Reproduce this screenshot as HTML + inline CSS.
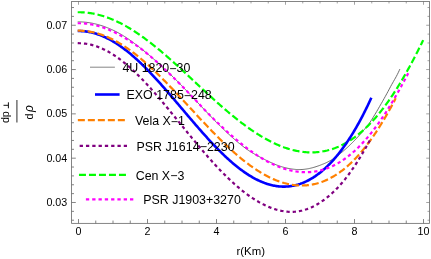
<!DOCTYPE html>
<html><head><meta charset="utf-8"><title>plot</title>
<style>
html,body{margin:0;padding:0;background:#fff;}
body{width:431px;height:259px;overflow:hidden;}
svg{display:block;will-change:transform;font-family:"Liberation Sans",sans-serif;}
text{fill:#000;}
</style></head><body>
<svg width="431" height="259" viewBox="0 0 431 259">
<rect width="431" height="259" fill="#fff"/>
<clipPath id="cp"><rect x="71.6" y="1.45" width="357.79999999999995" height="221.9"/></clipPath>
<g clip-path="url(#cp)">
<polyline points="77.70,21.85 78.63,21.85 79.57,21.86 80.50,21.89 81.44,21.92 82.37,21.97 83.31,22.03 84.24,22.11 85.18,22.19 86.11,22.29 87.04,22.40 87.98,22.52 88.91,22.66 89.85,22.80 90.78,22.96 91.72,23.13 92.65,23.31 93.59,23.51 94.52,23.71 95.45,23.93 96.39,24.16 97.32,24.40 98.26,24.65 99.19,24.91 100.13,25.19 101.06,25.47 102.00,25.77 102.93,26.08 103.86,26.40 104.80,26.74 105.73,27.08 106.67,27.44 107.60,27.80 108.54,28.18 109.47,28.57 110.41,28.98 111.34,29.39 112.27,29.81 113.21,30.25 114.14,30.70 115.08,31.16 116.01,31.63 116.95,32.11 117.88,32.60 118.82,33.11 119.75,33.62 120.68,34.15 121.62,34.70 122.55,35.25 123.49,35.83 124.42,36.41 125.36,37.01 126.29,37.63 127.23,38.25 128.16,38.89 129.09,39.54 130.03,40.19 130.96,40.86 131.90,41.54 132.83,42.23 133.77,42.92 134.70,43.63 135.64,44.34 136.57,45.06 137.50,45.78 138.44,46.51 139.37,47.25 140.31,47.98 141.24,48.73 142.18,49.48 143.11,50.23 144.05,50.98 144.98,51.73 145.91,52.49 146.85,53.26 147.78,54.02 148.72,54.80 149.65,55.58 150.59,56.37 151.52,57.16 152.46,57.96 153.39,58.76 154.32,59.57 155.26,60.39 156.19,61.21 157.13,62.04 158.06,62.87 159.00,63.71 159.93,64.55 160.87,65.40 161.80,66.25 162.73,67.11 163.67,67.98 164.60,68.85 165.54,69.73 166.47,70.61 167.41,71.49 168.34,72.39 169.28,73.28 170.21,74.19 171.14,75.09 172.08,76.01 173.01,76.92 173.95,77.85 174.88,78.78 175.82,79.71 176.75,80.65 177.69,81.59 178.62,82.54 179.55,83.49 180.49,84.44 181.42,85.40 182.36,86.37 183.29,87.34 184.23,88.32 185.16,89.29 186.10,90.28 187.03,91.26 187.96,92.25 188.90,93.23 189.83,94.22 190.77,95.22 191.70,96.21 192.64,97.20 193.57,98.20 194.51,99.19 195.44,100.19 196.37,101.18 197.31,102.18 198.24,103.17 199.18,104.17 200.11,105.17 201.05,106.16 201.98,107.15 202.92,108.14 203.85,109.13 204.78,110.12 205.72,111.11 206.65,112.09 207.59,113.08 208.52,114.06 209.46,115.03 210.39,116.01 211.33,116.98 212.26,117.95 213.19,118.91 214.13,119.87 215.06,120.83 216.00,121.78 216.93,122.72 217.87,123.67 218.80,124.60 219.74,125.53 220.67,126.46 221.60,127.37 222.54,128.29 223.47,129.19 224.41,130.09 225.34,130.98 226.28,131.87 227.21,132.75 228.15,133.62 229.08,134.49 230.01,135.34 230.95,136.19 231.88,137.03 232.82,137.86 233.75,138.69 234.69,139.50 235.62,140.31 236.56,141.11 237.49,141.90 238.42,142.68 239.36,143.45 240.29,144.21 241.23,144.96 242.16,145.70 243.10,146.43 244.03,147.15 244.97,147.86 245.90,148.56 246.83,149.23 247.77,149.88 248.70,150.52 249.64,151.13 250.57,151.73 251.51,152.31 252.44,152.88 253.38,153.43 254.31,153.97 255.24,154.50 256.18,155.02 257.11,155.53 258.05,156.04 258.98,156.53 259.92,157.03 260.85,157.51 261.79,158.00 262.72,158.48 263.65,158.96 264.59,159.44 265.52,159.93 266.46,160.40 267.39,160.87 268.33,161.33 269.26,161.78 270.20,162.22 271.13,162.65 272.06,163.07 273.00,163.48 273.93,163.88 274.87,164.27 275.80,164.64 276.74,165.01 277.67,165.36 278.61,165.70 279.54,166.03 280.47,166.34 281.41,166.64 282.34,166.93 283.28,167.20 284.21,167.46 285.15,167.70 286.08,167.92 287.02,168.14 287.95,168.33 288.88,168.51 289.82,168.67 290.75,168.82 291.69,168.96 292.62,169.09 293.56,169.21 294.49,169.32 295.43,169.41 296.36,169.49 297.29,169.55 298.23,169.58 299.16,169.60 300.10,169.59 301.03,169.56 301.97,169.51 302.90,169.44 303.84,169.35 304.77,169.24 305.70,169.12 306.64,168.98 307.57,168.82 308.51,168.65 309.44,168.46 310.38,168.25 311.31,168.03 312.25,167.79 313.18,167.54 314.11,167.27 315.05,166.99 315.98,166.69 316.92,166.38 317.85,166.06 318.79,165.72 319.72,165.38 320.66,165.02 321.59,164.65 322.52,164.28 323.46,163.91 324.39,163.52 325.33,163.11 326.26,162.69 327.20,162.25 328.13,161.78 329.07,161.30 330.00,160.78 330.93,160.23 331.87,159.66 332.80,159.05 333.74,158.42 334.67,157.78 335.61,157.12 336.54,156.44 337.48,155.74 338.41,155.03 339.34,154.30 340.28,153.55 341.21,152.79 342.15,152.02 343.08,151.23 344.02,150.42 344.95,149.60 345.89,148.77 346.82,147.92 347.75,147.07 348.69,146.19 349.62,145.31 350.56,144.41 351.49,143.50 352.43,142.58 353.36,141.65 354.30,140.70 355.23,139.73 356.16,138.76 357.10,137.77 358.03,136.76 358.97,135.74 359.90,134.70 360.84,133.64 361.77,132.57 362.71,131.48 363.64,130.37 364.57,129.24 365.51,128.10 366.44,126.93 367.38,125.74 368.31,124.53 369.25,123.30 370.18,121.99 371.12,120.60 372.05,119.15 372.98,117.64 373.92,116.10 374.85,114.55 375.79,113.00 376.72,111.43 377.66,109.84 378.59,108.21 379.53,106.58 380.46,104.96 381.39,103.36 382.33,101.74 383.26,100.09 384.20,98.43 385.13,96.74 386.07,95.04 387.00,93.32 387.94,91.58 388.87,89.84 389.80,88.08 390.74,86.32 391.67,84.61 392.61,82.95 393.54,81.33 394.48,79.70 395.41,78.06 396.35,76.36 397.28,74.59 398.21,72.71 399.15,70.70 399.85,69.10" fill="none" stroke="#5c5c5c" stroke-width="0.9"/>
<polyline points="77.70,12.24 78.63,12.23 79.57,12.24 80.50,12.26 81.44,12.29 82.37,12.33 83.31,12.38 84.24,12.44 85.18,12.52 86.11,12.60 87.04,12.70 87.98,12.81 88.91,12.93 89.85,13.06 90.78,13.20 91.72,13.35 92.65,13.51 93.59,13.69 94.52,13.87 95.45,14.07 96.39,14.28 97.32,14.49 98.26,14.72 99.19,14.96 100.13,15.21 101.06,15.47 102.00,15.74 102.93,16.03 103.86,16.32 104.80,16.62 105.73,16.93 106.67,17.26 107.60,17.59 108.54,17.94 109.47,18.29 110.41,18.66 111.34,19.03 112.27,19.42 113.21,19.81 114.14,20.22 115.08,20.63 116.01,21.06 116.95,21.49 117.88,21.94 118.82,22.39 119.75,22.85 120.68,23.32 121.62,23.81 122.55,24.30 123.49,24.80 124.42,25.31 125.36,25.83 126.29,26.35 127.23,26.89 128.16,27.43 129.09,27.99 130.03,28.55 130.96,29.12 131.90,29.70 132.83,30.28 133.77,30.88 134.70,31.48 135.64,32.09 136.57,32.71 137.50,33.34 138.44,33.97 139.37,34.62 140.31,35.27 141.24,35.92 142.18,36.59 143.11,37.26 144.05,37.94 144.98,38.62 145.91,39.31 146.85,40.01 147.78,40.72 148.72,41.43 149.65,42.15 150.59,42.87 151.52,43.60 152.46,44.34 153.39,45.08 154.32,45.83 155.26,46.58 156.19,47.34 157.13,48.10 158.06,48.87 159.00,49.65 159.93,50.43 160.87,51.21 161.80,52.00 162.73,52.79 163.67,53.59 164.60,54.39 165.54,55.20 166.47,56.01 167.41,56.83 168.34,57.65 169.28,58.47 170.21,59.30 171.14,60.12 172.08,60.96 173.01,61.79 173.95,62.63 174.88,63.48 175.82,64.32 176.75,65.17 177.69,66.02 178.62,66.87 179.55,67.72 180.49,68.58 181.42,69.44 182.36,70.30 183.29,71.16 184.23,72.03 185.16,72.89 186.10,73.76 187.03,74.63 187.96,75.50 188.90,76.37 189.83,77.24 190.77,78.11 191.70,78.98 192.64,79.85 193.57,80.73 194.51,81.60 195.44,82.47 196.37,83.34 197.31,84.22 198.24,85.09 199.18,85.96 200.11,86.83 201.05,87.70 201.98,88.57 202.92,89.44 203.85,90.31 204.78,91.17 205.72,92.03 206.65,92.90 207.59,93.76 208.52,94.62 209.46,95.47 210.39,96.33 211.33,97.18 212.26,98.03 213.19,98.88 214.13,99.72 215.06,100.57 216.00,101.41 216.93,102.24 217.87,103.08 218.80,103.91 219.74,104.73 220.67,105.56 221.60,106.38 222.54,107.19 223.47,108.01 224.41,108.81 225.34,109.62 226.28,110.42 227.21,111.22 228.15,112.01 229.08,112.79 230.01,113.58 230.95,114.35 231.88,115.13 232.82,115.89 233.75,116.66 234.69,117.41 235.62,118.17 236.56,118.91 237.49,119.65 238.42,120.39 239.36,121.12 240.29,121.84 241.23,122.56 242.16,123.27 243.10,123.98 244.03,124.68 244.97,125.37 245.90,126.06 246.83,126.74 247.77,127.41 248.70,128.08 249.64,128.74 250.57,129.39 251.51,130.04 252.44,130.67 253.38,131.30 254.31,131.93 255.24,132.54 256.18,133.15 257.11,133.75 258.05,134.35 258.98,134.93 259.92,135.51 260.85,136.08 261.79,136.64 262.72,137.19 263.65,137.73 264.59,138.27 265.52,138.80 266.46,139.32 267.39,139.83 268.33,140.33 269.26,140.82 270.20,141.30 271.13,141.78 272.06,142.24 273.00,142.70 273.93,143.14 274.87,143.58 275.80,144.01 276.74,144.43 277.67,144.84 278.61,145.23 279.54,145.62 280.47,146.00 281.41,146.37 282.34,146.73 283.28,147.08 284.21,147.42 285.15,147.74 286.08,148.06 287.02,148.37 287.95,148.66 288.88,148.95 289.82,149.23 290.75,149.49 291.69,149.74 292.62,149.99 293.56,150.22 294.49,150.44 295.43,150.65 296.36,150.84 297.29,151.03 298.23,151.20 299.16,151.37 300.10,151.52 301.03,151.66 301.97,151.79 302.90,151.90 303.84,152.01 304.77,152.10 305.70,152.18 306.64,152.25 307.57,152.30 308.51,152.35 309.44,152.38 310.38,152.39 311.31,152.40 312.25,152.39 313.18,152.37 314.11,152.34 315.05,152.29 315.98,152.23 316.92,152.16 317.85,152.08 318.79,151.98 319.72,151.87 320.66,151.74 321.59,151.60 322.52,151.45 323.46,151.28 324.39,151.10 325.33,150.91 326.26,150.70 327.20,150.48 328.13,150.24 329.07,149.99 330.00,149.73 330.93,149.45 331.87,149.15 332.80,148.85 333.74,148.52 334.67,148.19 335.61,147.83 336.54,147.47 337.48,147.08 338.41,146.69 339.34,146.27 340.28,145.84 341.21,145.40 342.15,144.94 343.08,144.47 344.02,143.98 344.95,143.47 345.89,142.95 346.82,142.41 347.75,141.86 348.69,141.29 349.62,140.70 350.56,140.10 351.49,139.48 352.43,138.85 353.36,138.20 354.30,137.53 355.23,136.84 356.16,136.14 357.10,135.42 358.03,134.69 358.97,133.94 359.90,133.17 360.84,132.38 361.77,131.58 362.71,130.76 363.64,129.92 364.57,129.06 365.51,128.19 366.44,127.30 367.38,126.39 368.31,125.47 369.25,124.52 370.18,123.56 371.12,122.58 372.05,121.58 372.98,120.57 373.92,119.54 374.85,118.49 375.79,117.42 376.72,116.33 377.66,115.22 378.59,114.10 379.53,112.96 380.46,111.80 381.39,110.62 382.33,109.42 383.26,108.21 384.20,106.97 385.13,105.72 386.07,104.45 387.00,103.16 387.94,101.86 388.87,100.53 389.80,99.19 390.74,97.83 391.67,96.45 392.61,95.05 393.54,93.64 394.48,92.20 395.41,90.75 396.35,89.28 397.28,87.80 398.21,86.29 399.15,84.77 400.08,83.23 401.02,81.68 401.95,80.10 402.89,78.51 403.82,76.90 404.76,75.28 405.69,73.64 406.62,71.98 407.56,70.31 408.49,68.62 409.43,66.92 410.36,65.20 411.30,63.46 412.23,61.71 413.17,59.95 414.10,58.17 415.03,56.38 415.97,54.57 416.90,52.75 417.84,50.92 418.77,49.07 419.71,47.21 420.64,45.34 421.58,43.46 422.51,41.57 423.21,40.14" fill="none" stroke="#00ff00" stroke-width="2.2" stroke-dasharray="7 3"/>
<polyline points="77.70,31.01 78.63,31.00 79.57,31.01 80.50,31.04 81.44,31.08 82.37,31.14 83.31,31.21 84.24,31.30 85.18,31.40 86.11,31.52 87.04,31.65 87.98,31.80 88.91,31.97 89.85,32.15 90.78,32.35 91.72,32.56 92.65,32.79 93.59,33.03 94.52,33.29 95.45,33.56 96.39,33.85 97.32,34.15 98.26,34.47 99.19,34.80 100.13,35.15 101.06,35.52 102.00,35.89 102.93,36.29 103.86,36.69 104.80,37.11 105.73,37.55 106.67,38.00 107.60,38.46 108.54,38.94 109.47,39.43 110.41,39.94 111.34,40.46 112.27,41.00 113.21,41.54 114.14,42.10 115.08,42.68 116.01,43.27 116.95,43.87 117.88,44.48 118.82,45.11 119.75,45.75 120.68,46.40 121.62,47.07 122.55,47.74 123.49,48.43 124.42,49.13 125.36,49.85 126.29,50.57 127.23,51.31 128.16,52.06 129.09,52.82 130.03,53.59 130.96,54.37 131.90,55.17 132.83,55.97 133.77,56.79 134.70,57.61 135.64,58.45 136.57,59.29 137.50,60.15 138.44,61.01 139.37,61.89 140.31,62.77 141.24,63.67 142.18,64.57 143.11,65.48 144.05,66.40 144.98,67.33 145.91,68.27 146.85,69.21 147.78,70.17 148.72,71.13 149.65,72.09 150.59,73.07 151.52,74.05 152.46,75.04 153.39,76.04 154.32,77.04 155.26,78.05 156.19,79.07 157.13,80.09 158.06,81.12 159.00,82.15 159.93,83.19 160.87,84.24 161.80,85.28 162.73,86.34 163.67,87.40 164.60,88.46 165.54,89.53 166.47,90.60 167.41,91.67 168.34,92.75 169.28,93.83 170.21,94.91 171.14,96.00 172.08,97.09 173.01,98.18 173.95,99.27 174.88,100.37 175.82,101.47 176.75,102.57 177.69,103.67 178.62,104.77 179.55,105.87 180.49,106.97 181.42,108.08 182.36,109.18 183.29,110.28 184.23,111.39 185.16,112.49 186.10,113.59 187.03,114.70 187.96,115.80 188.90,116.89 189.83,117.99 190.77,119.09 191.70,120.18 192.64,121.27 193.57,122.36 194.51,123.45 195.44,124.53 196.37,125.61 197.31,126.69 198.24,127.76 199.18,128.83 200.11,129.90 201.05,130.96 201.98,132.02 202.92,133.07 203.85,134.12 204.78,135.17 205.72,136.20 206.65,137.24 207.59,138.26 208.52,139.29 209.46,140.30 210.39,141.31 211.33,142.31 212.26,143.31 213.19,144.30 214.13,145.28 215.06,146.26 216.00,147.23 216.93,148.19 217.87,149.14 218.80,150.08 219.74,151.02 220.67,151.95 221.60,152.87 222.54,153.78 223.47,154.68 224.41,155.57 225.34,156.46 226.28,157.33 227.21,158.20 228.15,159.05 229.08,159.90 230.01,160.73 230.95,161.55 231.88,162.37 232.82,163.17 233.75,163.96 234.69,164.74 235.62,165.51 236.56,166.27 237.49,167.02 238.42,167.76 239.36,168.48 240.29,169.19 241.23,169.89 242.16,170.58 243.10,171.25 244.03,171.92 244.97,172.57 245.90,173.20 246.83,173.83 247.77,174.44 248.70,175.03 249.64,175.62 250.57,176.19 251.51,176.74 252.44,177.28 253.38,177.81 254.31,178.33 255.24,178.83 256.18,179.31 257.11,179.78 258.05,180.24 258.98,180.68 259.92,181.11 260.85,181.52 261.79,181.92 262.72,182.30 263.65,182.66 264.59,183.02 265.52,183.35 266.46,183.67 267.39,183.97 268.33,184.26 269.26,184.53 270.20,184.79 271.13,185.03 272.06,185.25 273.00,185.46 273.93,185.65 274.87,185.82 275.80,185.97 276.74,186.11 277.67,186.24 278.61,186.34 279.54,186.43 280.47,186.50 281.41,186.56 282.34,186.59 283.28,186.61 284.21,186.62 285.15,186.60 286.08,186.57 287.02,186.51 287.95,186.45 288.88,186.36 289.82,186.25 290.75,186.13 291.69,185.99 292.62,185.83 293.56,185.65 294.49,185.45 295.43,185.24 296.36,185.00 297.29,184.75 298.23,184.48 299.16,184.19 300.10,183.88 301.03,183.55 301.97,183.21 302.90,182.84 303.84,182.46 304.77,182.05 305.70,181.63 306.64,181.18 307.57,180.72 308.51,180.24 309.44,179.74 310.38,179.21 311.31,178.67 312.25,178.11 313.18,177.53 314.11,176.93 315.05,176.31 315.98,175.66 316.92,175.00 317.85,174.32 318.79,173.61 319.72,172.89 320.66,172.15 321.59,171.38 322.52,170.60 323.46,169.79 324.39,168.96 325.33,168.11 326.26,167.24 327.20,166.35 328.13,165.44 329.07,164.50 330.00,163.55 330.93,162.57 331.87,161.57 332.80,160.55 333.74,159.51 334.67,158.44 335.61,157.35 336.54,156.24 337.48,155.11 338.41,153.96 339.34,152.78 340.28,151.58 341.21,150.36 342.15,149.11 343.08,147.84 344.02,146.55 344.95,145.23 345.89,143.89 346.82,142.53 347.75,141.14 348.69,139.73 349.62,138.29 350.56,136.83 351.49,135.35 352.43,133.84 353.36,132.31 354.30,130.75 355.23,129.16 356.16,127.55 357.10,125.92 358.03,124.26 358.97,122.57 359.90,120.86 360.84,119.12 361.77,117.36 362.71,115.56 363.64,113.75 364.57,111.90 365.51,110.03 366.44,108.13 367.38,106.20 368.31,104.24 369.25,102.26 370.18,100.25 371.12,98.21 371.35,97.69" fill="none" stroke="#0000ff" stroke-width="2.6"/>
<polyline points="77.70,30.69 78.63,30.69 79.57,30.69 80.50,30.72 81.44,30.75 82.37,30.80 83.31,30.86 84.24,30.94 85.18,31.03 86.11,31.13 87.04,31.25 87.98,31.38 88.91,31.52 89.85,31.68 90.78,31.85 91.72,32.03 92.65,32.22 93.59,32.43 94.52,32.66 95.45,32.89 96.39,33.14 97.32,33.40 98.26,33.67 99.19,33.96 100.13,34.26 101.06,34.57 102.00,34.90 102.93,35.24 103.86,35.59 104.80,35.95 105.73,36.33 106.67,36.72 107.60,37.12 108.54,37.53 109.47,37.96 110.41,38.39 111.34,38.84 112.27,39.30 113.21,39.78 114.14,40.26 115.08,40.76 116.01,41.27 116.95,41.79 117.88,42.32 118.82,42.86 119.75,43.42 120.68,43.98 121.62,44.56 122.55,45.14 123.49,45.74 124.42,46.35 125.36,46.97 126.29,47.60 127.23,48.24 128.16,48.89 129.09,49.55 130.03,50.22 130.96,50.90 131.90,51.59 132.83,52.29 133.77,53.00 134.70,53.72 135.64,54.45 136.57,55.19 137.50,55.94 138.44,56.69 139.37,57.46 140.31,58.23 141.24,59.01 142.18,59.80 143.11,60.60 144.05,61.40 144.98,62.22 145.91,63.04 146.85,63.87 147.78,64.71 148.72,65.55 149.65,66.40 150.59,67.26 151.52,68.13 152.46,69.00 153.39,69.88 154.32,70.76 155.26,71.65 156.19,72.55 157.13,73.45 158.06,74.36 159.00,75.28 159.93,76.20 160.87,77.13 161.80,78.06 162.73,78.99 163.67,79.93 164.60,80.88 165.54,81.83 166.47,82.78 167.41,83.74 168.34,84.71 169.28,85.67 170.21,86.64 171.14,87.62 172.08,88.59 173.01,89.57 173.95,90.56 174.88,91.54 175.82,92.53 176.75,93.52 177.69,94.52 178.62,95.51 179.55,96.51 180.49,97.51 181.42,98.51 182.36,99.52 183.29,100.52 184.23,101.53 185.16,102.53 186.10,103.54 187.03,104.55 187.96,105.56 188.90,106.56 189.83,107.57 190.77,108.58 191.70,109.59 192.64,110.60 193.57,111.61 194.51,112.61 195.44,113.62 196.37,114.63 197.31,115.63 198.24,116.63 199.18,117.63 200.11,118.63 201.05,119.63 201.98,120.63 202.92,121.62 203.85,122.61 204.78,123.60 205.72,124.59 206.65,125.57 207.59,126.55 208.52,127.53 209.46,128.50 210.39,129.47 211.33,130.44 212.26,131.40 213.19,132.36 214.13,133.31 215.06,134.26 216.00,135.21 216.93,136.15 217.87,137.08 218.80,138.02 219.74,138.94 220.67,139.86 221.60,140.78 222.54,141.69 223.47,142.60 224.41,143.50 225.34,144.39 226.28,145.28 227.21,146.16 228.15,147.03 229.08,147.90 230.01,148.76 230.95,149.61 231.88,150.46 232.82,151.30 233.75,152.14 234.69,152.96 235.62,153.78 236.56,154.59 237.49,155.40 238.42,156.19 239.36,156.98 240.29,157.76 241.23,158.53 242.16,159.29 243.10,160.04 244.03,160.79 244.97,161.53 245.90,162.25 246.83,162.97 247.77,163.68 248.70,164.38 249.64,165.07 250.57,165.76 251.51,166.43 252.44,167.09 253.38,167.74 254.31,168.38 255.24,169.02 256.18,169.64 257.11,170.25 258.05,170.85 258.98,171.44 259.92,172.02 260.85,172.59 261.79,173.15 262.72,173.70 263.65,174.23 264.59,174.76 265.52,175.27 266.46,175.78 267.39,176.27 268.33,176.75 269.26,177.21 270.20,177.67 271.13,178.11 272.06,178.55 273.00,178.97 273.93,179.38 274.87,179.77 275.80,180.15 276.74,180.53 277.67,180.88 278.61,181.23 279.54,181.56 280.47,181.88 281.41,182.19 282.34,182.49 283.28,182.77 284.21,183.04 285.15,183.29 286.08,183.53 287.02,183.76 287.95,183.98 288.88,184.18 289.82,184.36 290.75,184.54 291.69,184.70 292.62,184.84 293.56,184.97 294.49,185.09 295.43,185.20 296.36,185.28 297.29,185.36 298.23,185.42 299.16,185.47 300.10,185.50 301.03,185.51 301.97,185.52 302.90,185.50 303.84,185.47 304.77,185.43 305.70,185.37 306.64,185.30 307.57,185.21 308.51,185.11 309.44,184.99 310.38,184.85 311.31,184.70 312.25,184.54 313.18,184.36 314.11,184.16 315.05,183.95 315.98,183.72 316.92,183.47 317.85,183.21 318.79,182.93 319.72,182.64 320.66,182.33 321.59,182.00 322.52,181.66 323.46,181.30 324.39,180.92 325.33,180.53 326.26,180.12 327.20,179.69 328.13,179.25 329.07,178.79 330.00,178.31 330.93,177.82 331.87,177.30 332.80,176.77 333.74,176.23 334.67,175.66 335.61,175.08 336.54,174.48 337.48,173.86 338.41,173.23 339.34,172.58 340.28,171.90 341.21,171.22 342.15,170.51 343.08,169.78 344.02,169.04 344.95,168.28 345.89,167.50 346.82,166.70 347.75,165.88 348.69,165.05 349.62,164.19 350.56,163.32 351.49,162.43 352.43,161.52 353.36,160.59 354.30,159.64 355.23,158.67 356.16,157.69 357.10,156.68 358.03,155.66 358.97,154.62 359.90,153.55 360.84,152.47 361.77,151.37 362.71,150.25 363.64,149.11 364.57,147.95 365.51,146.77 366.44,145.57 367.38,144.36 368.31,143.12 369.25,141.86 370.18,140.58 371.12,139.29 372.05,137.97 372.98,136.64 373.92,135.28 374.85,133.91 375.79,132.52 376.72,131.10 377.66,129.67 378.59,128.22 379.53,126.75 380.46,125.26 381.39,123.75 382.33,122.22 383.26,120.67 384.20,119.10 385.13,117.51 386.07,115.91 387.00,114.28 387.94,112.64 388.87,110.98 389.80,109.30 390.74,107.60 391.67,105.88 392.61,104.14 393.54,102.39 394.48,100.62 395.41,98.83 395.76,98.15" fill="none" stroke="#ff8000" stroke-width="2.2" stroke-dasharray="7 3"/>
<polyline points="77.70,43.23 78.63,43.22 79.57,43.23 80.50,43.26 81.44,43.30 82.37,43.37 83.31,43.44 84.24,43.54 85.18,43.65 86.11,43.78 87.04,43.93 87.98,44.09 88.91,44.27 89.85,44.47 90.78,44.68 91.72,44.91 92.65,45.16 93.59,45.42 94.52,45.70 95.45,46.00 96.39,46.31 97.32,46.64 98.26,46.99 99.19,47.35 100.13,47.73 101.06,48.12 102.00,48.53 102.93,48.95 103.86,49.39 104.80,49.85 105.73,50.32 106.67,50.81 107.60,51.31 108.54,51.83 109.47,52.36 110.41,52.91 111.34,53.47 112.27,54.05 113.21,54.64 114.14,55.24 115.08,55.86 116.01,56.50 116.95,57.15 117.88,57.81 118.82,58.48 119.75,59.17 120.68,59.87 121.62,60.59 122.55,61.32 123.49,62.06 124.42,62.81 125.36,63.58 126.29,64.36 127.23,65.15 128.16,65.95 129.09,66.77 130.03,67.60 130.96,68.43 131.90,69.28 132.83,70.14 133.77,71.02 134.70,71.90 135.64,72.79 136.57,73.69 137.50,74.61 138.44,75.53 139.37,76.46 140.31,77.41 141.24,78.36 142.18,79.32 143.11,80.29 144.05,81.27 144.98,82.26 145.91,83.25 146.85,84.25 147.78,85.27 148.72,86.29 149.65,87.31 150.59,88.35 151.52,89.39 152.46,90.43 153.39,91.49 154.32,92.55 155.26,93.62 156.19,94.69 157.13,95.77 158.06,96.85 159.00,97.94 159.93,99.03 160.87,100.13 161.80,101.24 162.73,102.34 163.67,103.46 164.60,104.57 165.54,105.69 166.47,106.82 167.41,107.94 168.34,109.07 169.28,110.20 170.21,111.34 171.14,112.48 172.08,113.62 173.01,114.76 173.95,115.90 174.88,117.04 175.82,118.19 176.75,119.34 177.69,120.49 178.62,121.63 179.55,122.78 180.49,123.93 181.42,125.08 182.36,126.23 183.29,127.38 184.23,128.52 185.16,129.67 186.10,130.82 187.03,131.96 187.96,133.10 188.90,134.25 189.83,135.39 190.77,136.52 191.70,137.66 192.64,138.79 193.57,139.92 194.51,141.05 195.44,142.17 196.37,143.29 197.31,144.41 198.24,145.52 199.18,146.63 200.11,147.73 201.05,148.83 201.98,149.93 202.92,151.02 203.85,152.11 204.78,153.19 205.72,154.27 206.65,155.34 207.59,156.41 208.52,157.47 209.46,158.52 210.39,159.57 211.33,160.61 212.26,161.65 213.19,162.68 214.13,163.70 215.06,164.72 216.00,165.73 216.93,166.73 217.87,167.72 218.80,168.71 219.74,169.69 220.67,170.66 221.60,171.62 222.54,172.58 223.47,173.53 224.41,174.46 225.34,175.39 226.28,176.32 227.21,177.23 228.15,178.13 229.08,179.03 230.01,179.91 230.95,180.79 231.88,181.66 232.82,182.51 233.75,183.36 234.69,184.20 235.62,185.03 236.56,185.84 237.49,186.65 238.42,187.45 239.36,188.23 240.29,189.01 241.23,189.77 242.16,190.53 243.10,191.27 244.03,192.00 244.97,192.72 245.90,193.43 246.83,194.13 247.77,194.81 248.70,195.49 249.64,196.15 250.57,196.80 251.51,197.44 252.44,198.07 253.38,198.68 254.31,199.28 255.24,199.87 256.18,200.45 257.11,201.01 258.05,201.56 258.98,202.10 259.92,202.63 260.85,203.14 261.79,203.64 262.72,204.12 263.65,204.59 264.59,205.05 265.52,205.49 266.46,205.93 267.39,206.34 268.33,206.74 269.26,207.13 270.20,207.51 271.13,207.87 272.06,208.21 273.00,208.54 273.93,208.86 274.87,209.16 275.80,209.44 276.74,209.71 277.67,209.97 278.61,210.21 279.54,210.43 280.47,210.64 281.41,210.84 282.34,211.01 283.28,211.17 284.21,211.32 285.15,211.45 286.08,211.56 287.02,211.66 287.95,211.74 288.88,211.80 289.82,211.84 290.75,211.87 291.69,211.87 292.62,211.85 293.56,211.81 294.49,211.75 295.43,211.68 296.36,211.58 297.29,211.46 298.23,211.32 299.16,211.16 300.10,210.98 301.03,210.78 301.97,210.57 302.90,210.33 303.84,210.08 304.77,209.81 305.70,209.52 306.64,209.21 307.57,208.88 308.51,208.53 309.44,208.17 310.38,207.79 311.31,207.39 312.25,206.96 313.18,206.52 314.11,206.05 315.05,205.56 315.98,205.06 316.92,204.53 317.85,203.98 318.79,203.41 319.72,202.82 320.66,202.20 321.59,201.57 322.52,200.92 323.46,200.25 324.39,199.55 325.33,198.84 326.26,198.11 327.20,197.35 328.13,196.58 329.07,195.79 330.00,194.98 330.93,194.15 331.87,193.32 332.80,192.46 333.74,191.59 334.67,190.70 335.61,189.78 336.54,188.85 337.48,187.90 338.41,186.92 339.34,185.92 340.28,184.90 341.21,183.85 342.15,182.77 343.08,181.66 344.02,180.53 344.95,179.37 345.89,178.18 346.82,176.97 347.75,175.73 348.69,174.48 349.62,173.20 350.56,171.89 351.49,170.57 352.43,169.22 353.36,167.85 354.30,166.46 355.23,165.05 356.16,163.61 357.10,162.16 358.03,160.68 358.97,159.19 359.90,157.67 360.84,156.14 361.77,154.58 362.71,153.01 363.64,151.42 364.57,149.81 365.51,148.19 366.44,146.55 367.38,144.89 368.31,143.22 369.25,141.53 369.83,140.47" fill="none" stroke="#800080" stroke-width="2.2" stroke-dasharray="3.3 2.9599"/>
<polyline points="77.70,23.23 78.63,23.23 79.57,23.24 80.50,23.26 81.44,23.29 82.37,23.34 83.31,23.39 84.24,23.47 85.18,23.55 86.11,23.64 87.04,23.75 87.98,23.87 88.91,24.00 89.85,24.15 90.78,24.31 91.72,24.48 92.65,24.66 93.59,24.85 94.52,25.06 95.45,25.28 96.39,25.51 97.32,25.75 98.26,26.00 99.19,26.27 100.13,26.55 101.06,26.84 102.00,27.14 102.93,27.45 103.86,27.78 104.80,28.12 105.73,28.47 106.67,28.83 107.60,29.20 108.54,29.58 109.47,29.98 110.41,30.39 111.34,30.80 112.27,31.23 113.21,31.67 114.14,32.12 115.08,32.58 116.01,33.06 116.95,33.54 117.88,34.03 118.82,34.54 119.75,35.05 120.68,35.58 121.62,36.11 122.55,36.64 123.49,37.18 124.42,37.73 125.36,38.29 126.29,38.85 127.23,39.42 128.16,39.99 129.09,40.57 130.03,41.17 130.96,41.76 131.90,42.37 132.83,42.99 133.77,43.61 134.70,44.24 135.64,44.89 136.57,45.54 137.50,46.20 138.44,46.87 139.37,47.55 140.31,48.24 141.24,48.94 142.18,49.65 143.11,50.37 144.05,51.11 144.98,51.85 145.91,52.60 146.85,53.37 147.78,54.13 148.72,54.91 149.65,55.69 150.59,56.48 151.52,57.28 152.46,58.08 153.39,58.89 154.32,59.70 155.26,60.53 156.19,61.35 157.13,62.19 158.06,63.03 159.00,63.87 159.93,64.72 160.87,65.58 161.80,66.44 162.73,67.31 163.67,68.18 164.60,69.05 165.54,69.93 166.47,70.82 167.41,71.71 168.34,72.61 169.28,73.50 170.21,74.41 171.14,75.31 172.08,76.22 173.01,77.14 173.95,78.05 174.88,78.98 175.82,79.90 176.75,80.83 177.69,81.76 178.62,82.69 179.55,83.63 180.49,84.56 181.42,85.50 182.36,86.45 183.29,87.39 184.23,88.35 185.16,89.31 186.10,90.27 187.03,91.24 187.96,92.22 188.90,93.19 189.83,94.17 190.77,95.16 191.70,96.14 192.64,97.13 193.57,98.12 194.51,99.11 195.44,100.10 196.37,101.09 197.31,102.08 198.24,103.07 199.18,104.06 200.11,105.05 201.05,106.03 201.98,107.02 202.92,108.00 203.85,108.98 204.78,109.95 205.72,110.92 206.65,111.89 207.59,112.85 208.52,113.81 209.46,114.76 210.39,115.70 211.33,116.64 212.26,117.57 213.19,118.50 214.13,119.42 215.06,120.32 216.00,121.23 216.93,122.13 217.87,123.02 218.80,123.91 219.74,124.80 220.67,125.68 221.60,126.56 222.54,127.43 223.47,128.30 224.41,129.17 225.34,130.03 226.28,130.88 227.21,131.73 228.15,132.57 229.08,133.41 230.01,134.24 230.95,135.06 231.88,135.88 232.82,136.70 233.75,137.51 234.69,138.31 235.62,139.10 236.56,139.89 237.49,140.67 238.42,141.44 239.36,142.21 240.29,142.97 241.23,143.73 242.16,144.47 243.10,145.21 244.03,145.94 244.97,146.67 245.90,147.38 246.83,148.09 247.77,148.79 248.70,149.48 249.64,150.16 250.57,150.84 251.51,151.50 252.44,152.16 253.38,152.81 254.31,153.45 255.24,154.08 256.18,154.71 257.11,155.32 258.05,155.92 258.98,156.52 259.92,157.10 260.85,157.68 261.79,158.25 262.72,158.80 263.65,159.35 264.59,159.89 265.52,160.41 266.46,160.93 267.39,161.44 268.33,161.93 269.26,162.42 270.20,162.89 271.13,163.36 272.06,163.81 273.00,164.25 273.93,164.69 274.87,165.11 275.80,165.52 276.74,165.91 277.67,166.30 278.61,166.68 279.54,167.04 280.47,167.39 281.41,167.74 282.34,168.07 283.28,168.38 284.21,168.69 285.15,168.98 286.08,169.26 287.02,169.53 287.95,169.79 288.88,170.03 289.82,170.27 290.75,170.49 291.69,170.69 292.62,170.89 293.56,171.07 294.49,171.24 295.43,171.39 296.36,171.53 297.29,171.66 298.23,171.78 299.16,171.88 300.10,171.97 301.03,172.04 301.97,172.11 302.90,172.15 303.84,172.19 304.77,172.21 305.70,172.21 306.64,172.21 307.57,172.18 308.51,172.15 309.44,172.10 310.38,172.03 311.31,171.95 312.25,171.86 313.18,171.75 314.11,171.63 315.05,171.49 315.98,171.34 316.92,171.17 317.85,170.98 318.79,170.79 319.72,170.57 320.66,170.34 321.59,170.10 322.52,169.84 323.46,169.56 324.39,169.27 325.33,168.96 326.26,168.64 327.20,168.30 328.13,167.95 329.07,167.58 330.00,167.19 330.93,166.79 331.87,166.37 332.80,165.93 333.74,165.48 334.67,165.01 335.61,164.52 336.54,164.02 337.48,163.50 338.41,162.97 339.34,162.41 340.28,161.84 341.21,161.25 342.15,160.65 343.08,160.03 344.02,159.39 344.95,158.73 345.89,158.06 346.82,157.37 347.75,156.66 348.69,155.93 349.62,155.19 350.56,154.42 351.49,153.64 352.43,152.85 353.36,152.03 354.30,151.20 355.23,150.34 356.16,149.48 357.10,148.59 358.03,147.68 358.97,146.76 359.90,145.81 360.84,144.85 361.77,143.87 362.71,142.88 363.64,141.86 364.57,140.83 365.51,139.78 366.44,138.70 367.38,137.62 368.31,136.51 369.25,135.38 370.18,134.24 371.12,133.08 372.05,131.90 372.98,130.70 373.92,129.48 374.85,128.25 375.79,126.99 376.72,125.72 377.66,124.43 378.59,123.13 379.53,121.80 380.46,120.46 381.39,119.10 382.33,117.72 383.26,116.32 384.20,114.91 385.13,113.48 386.07,112.04 387.00,110.57 387.94,109.09 388.87,107.59 389.80,106.08 390.74,104.55 391.67,103.01 392.61,101.45 393.54,99.87 394.48,98.28 395.41,96.67 396.35,95.05 397.28,93.41 398.21,91.76 399.15,90.10 400.08,88.42 401.02,86.73 401.95,85.03 402.89,83.31 403.82,81.59 404.76,79.85 405.69,78.10 406.62,76.34 407.56,74.57 408.26,73.23" fill="none" stroke="#ff00ff" stroke-width="2.2" stroke-dasharray="3.3 2.9614"/>
</g>
<g stroke="#666666" stroke-width="0.8" fill="none">
<rect x="71.6" y="1.45" width="357.79999999999995" height="221.9"/>
<line x1="78.50" y1="223.35" x2="78.50" y2="219.04999999999998"/>
<line x1="95.75" y1="223.35" x2="95.75" y2="220.54999999999998"/>
<line x1="113.00" y1="223.35" x2="113.00" y2="220.54999999999998"/>
<line x1="130.25" y1="223.35" x2="130.25" y2="220.54999999999998"/>
<line x1="147.50" y1="223.35" x2="147.50" y2="219.04999999999998"/>
<line x1="164.75" y1="223.35" x2="164.75" y2="220.54999999999998"/>
<line x1="182.00" y1="223.35" x2="182.00" y2="220.54999999999998"/>
<line x1="199.25" y1="223.35" x2="199.25" y2="220.54999999999998"/>
<line x1="216.50" y1="223.35" x2="216.50" y2="219.04999999999998"/>
<line x1="233.75" y1="223.35" x2="233.75" y2="220.54999999999998"/>
<line x1="251.00" y1="223.35" x2="251.00" y2="220.54999999999998"/>
<line x1="268.25" y1="223.35" x2="268.25" y2="220.54999999999998"/>
<line x1="285.50" y1="223.35" x2="285.50" y2="219.04999999999998"/>
<line x1="302.75" y1="223.35" x2="302.75" y2="220.54999999999998"/>
<line x1="320.00" y1="223.35" x2="320.00" y2="220.54999999999998"/>
<line x1="337.25" y1="223.35" x2="337.25" y2="220.54999999999998"/>
<line x1="354.50" y1="223.35" x2="354.50" y2="219.04999999999998"/>
<line x1="371.75" y1="223.35" x2="371.75" y2="220.54999999999998"/>
<line x1="389.00" y1="223.35" x2="389.00" y2="220.54999999999998"/>
<line x1="406.25" y1="223.35" x2="406.25" y2="220.54999999999998"/>
<line x1="423.50" y1="223.35" x2="423.50" y2="219.04999999999998"/>
<line x1="71.6" y1="220.21" x2="74.0" y2="220.21"/>
<line x1="71.6" y1="211.35" x2="74.0" y2="211.35"/>
<line x1="71.6" y1="202.49" x2="75.8" y2="202.49"/>
<line x1="71.6" y1="193.63" x2="74.0" y2="193.63"/>
<line x1="71.6" y1="184.77" x2="74.0" y2="184.77"/>
<line x1="71.6" y1="175.90" x2="74.0" y2="175.90"/>
<line x1="71.6" y1="167.04" x2="74.0" y2="167.04"/>
<line x1="71.6" y1="158.18" x2="75.8" y2="158.18"/>
<line x1="71.6" y1="149.32" x2="74.0" y2="149.32"/>
<line x1="71.6" y1="140.46" x2="74.0" y2="140.46"/>
<line x1="71.6" y1="131.59" x2="74.0" y2="131.59"/>
<line x1="71.6" y1="122.73" x2="74.0" y2="122.73"/>
<line x1="71.6" y1="113.87" x2="75.8" y2="113.87"/>
<line x1="71.6" y1="105.01" x2="74.0" y2="105.01"/>
<line x1="71.6" y1="96.15" x2="74.0" y2="96.15"/>
<line x1="71.6" y1="87.28" x2="74.0" y2="87.28"/>
<line x1="71.6" y1="78.42" x2="74.0" y2="78.42"/>
<line x1="71.6" y1="69.56" x2="75.8" y2="69.56"/>
<line x1="71.6" y1="60.70" x2="74.0" y2="60.70"/>
<line x1="71.6" y1="51.84" x2="74.0" y2="51.84"/>
<line x1="71.6" y1="42.97" x2="74.0" y2="42.97"/>
<line x1="71.6" y1="34.11" x2="74.0" y2="34.11"/>
<line x1="71.6" y1="25.25" x2="75.8" y2="25.25"/>
<line x1="71.6" y1="16.39" x2="74.0" y2="16.39"/>
<line x1="71.6" y1="7.53" x2="74.0" y2="7.53"/>
</g>
<g stroke="#666666" stroke-width="0.6" fill="none">
<line x1="78.50" y1="1.45" x2="78.50" y2="4.75"/>
<line x1="95.75" y1="1.45" x2="95.75" y2="3.45"/>
<line x1="113.00" y1="1.45" x2="113.00" y2="3.45"/>
<line x1="130.25" y1="1.45" x2="130.25" y2="3.45"/>
<line x1="147.50" y1="1.45" x2="147.50" y2="4.75"/>
<line x1="164.75" y1="1.45" x2="164.75" y2="3.45"/>
<line x1="182.00" y1="1.45" x2="182.00" y2="3.45"/>
<line x1="199.25" y1="1.45" x2="199.25" y2="3.45"/>
<line x1="216.50" y1="1.45" x2="216.50" y2="4.75"/>
<line x1="233.75" y1="1.45" x2="233.75" y2="3.45"/>
<line x1="251.00" y1="1.45" x2="251.00" y2="3.45"/>
<line x1="268.25" y1="1.45" x2="268.25" y2="3.45"/>
<line x1="285.50" y1="1.45" x2="285.50" y2="4.75"/>
<line x1="302.75" y1="1.45" x2="302.75" y2="3.45"/>
<line x1="320.00" y1="1.45" x2="320.00" y2="3.45"/>
<line x1="337.25" y1="1.45" x2="337.25" y2="3.45"/>
<line x1="354.50" y1="1.45" x2="354.50" y2="4.75"/>
<line x1="371.75" y1="1.45" x2="371.75" y2="3.45"/>
<line x1="389.00" y1="1.45" x2="389.00" y2="3.45"/>
<line x1="406.25" y1="1.45" x2="406.25" y2="3.45"/>
<line x1="423.50" y1="1.45" x2="423.50" y2="4.75"/>
<line x1="429.4" y1="220.21" x2="427.5" y2="220.21"/>
<line x1="429.4" y1="211.35" x2="427.5" y2="211.35"/>
<line x1="429.4" y1="202.49" x2="426.2" y2="202.49"/>
<line x1="429.4" y1="193.63" x2="427.5" y2="193.63"/>
<line x1="429.4" y1="184.77" x2="427.5" y2="184.77"/>
<line x1="429.4" y1="175.90" x2="427.5" y2="175.90"/>
<line x1="429.4" y1="167.04" x2="427.5" y2="167.04"/>
<line x1="429.4" y1="158.18" x2="426.2" y2="158.18"/>
<line x1="429.4" y1="149.32" x2="427.5" y2="149.32"/>
<line x1="429.4" y1="140.46" x2="427.5" y2="140.46"/>
<line x1="429.4" y1="131.59" x2="427.5" y2="131.59"/>
<line x1="429.4" y1="122.73" x2="427.5" y2="122.73"/>
<line x1="429.4" y1="113.87" x2="426.2" y2="113.87"/>
<line x1="429.4" y1="105.01" x2="427.5" y2="105.01"/>
<line x1="429.4" y1="96.15" x2="427.5" y2="96.15"/>
<line x1="429.4" y1="87.28" x2="427.5" y2="87.28"/>
<line x1="429.4" y1="78.42" x2="427.5" y2="78.42"/>
<line x1="429.4" y1="69.56" x2="426.2" y2="69.56"/>
<line x1="429.4" y1="60.70" x2="427.5" y2="60.70"/>
<line x1="429.4" y1="51.84" x2="427.5" y2="51.84"/>
<line x1="429.4" y1="42.97" x2="427.5" y2="42.97"/>
<line x1="429.4" y1="34.11" x2="427.5" y2="34.11"/>
<line x1="429.4" y1="25.25" x2="426.2" y2="25.25"/>
<line x1="429.4" y1="16.39" x2="427.5" y2="16.39"/>
<line x1="429.4" y1="7.53" x2="427.5" y2="7.53"/>
</g>
<text x="78.50" y="235.2" text-anchor="middle" font-size="10.7">0</text>
<text x="147.50" y="235.2" text-anchor="middle" font-size="10.7">2</text>
<text x="216.50" y="235.2" text-anchor="middle" font-size="10.7">4</text>
<text x="285.50" y="235.2" text-anchor="middle" font-size="10.7">6</text>
<text x="354.50" y="235.2" text-anchor="middle" font-size="10.7">8</text>
<text x="423.50" y="235.2" text-anchor="middle" font-size="10.7">10</text>
<text x="67.2" y="206.09" text-anchor="end" font-size="10.7">0.03</text>
<text x="67.2" y="161.78" text-anchor="end" font-size="10.7">0.04</text>
<text x="67.2" y="117.47" text-anchor="end" font-size="10.7">0.05</text>
<text x="67.2" y="73.16" text-anchor="end" font-size="10.7">0.06</text>
<text x="67.2" y="28.85" text-anchor="end" font-size="10.7">0.07</text>
<text x="250.7" y="254.8" text-anchor="middle" font-size="11.4">r(Km)</text>
<line x1="90.0" y1="67.2" x2="114.9" y2="67.2" stroke="#787878" stroke-width="0.9"/>
<text x="122.4" y="71.80" font-size="12.4">4U 1820<tspan dy="0.9">−</tspan><tspan dy="-0.9">30</tspan></text>
<line x1="95.0" y1="94.5" x2="119.6" y2="94.5" stroke="#0000ff" stroke-width="2.6"/>
<text x="126.6" y="99.20" font-size="12.4">EXO 1785<tspan dy="0.9">−</tspan><tspan dy="-0.9">248</tspan></text>
<line x1="77.85" y1="120.2" x2="125.1" y2="120.2" stroke="#ff8000" stroke-width="2.2" stroke-dasharray="7 3"/>
<text x="135.0" y="124.60" font-size="12.4">Vela X<tspan dy="0.9">−</tspan><tspan dy="-0.9">1</tspan></text>
<line x1="79.66" y1="145.9" x2="127.0" y2="145.9" stroke="#800080" stroke-width="2.2" stroke-dasharray="3.3 3"/>
<text x="136.4" y="150.50" font-size="12.4" letter-spacing="0.06">PSR J1614<tspan dy="0.9">−</tspan><tspan dy="-0.9">2230</tspan></text>
<line x1="78.96" y1="174.8" x2="126.46" y2="174.8" stroke="#00ff00" stroke-width="2.2" stroke-dasharray="7 3"/>
<text x="135.7" y="179.55" font-size="12.4">Cen X<tspan dy="0.9">−</tspan><tspan dy="-0.9">3</tspan></text>
<line x1="85.9" y1="199.3" x2="133.3" y2="199.3" stroke="#ff00ff" stroke-width="2.2" stroke-dasharray="3.3 3"/>
<text x="143.3" y="203.70" font-size="12.4">PSR J1903+3270</text>
<g transform="translate(0,0)">
<text transform="translate(9.0,123.1) rotate(-90)" font-size="10.7">dp</text>
<path d="M3.5 105.3 H8.4 M8.4 102.3 V108.3" stroke="#111" stroke-width="1.0" fill="none"/>
<line x1="16.9" y1="100.0" x2="16.9" y2="122.5" stroke="#555" stroke-width="1.25"/>
<text transform="translate(33.0,119.5) rotate(-90)" font-size="10.7">d<tspan font-style="italic" font-size="12.0" dx="1.5">ρ</tspan></text>
</g>
</svg>
</body></html>
